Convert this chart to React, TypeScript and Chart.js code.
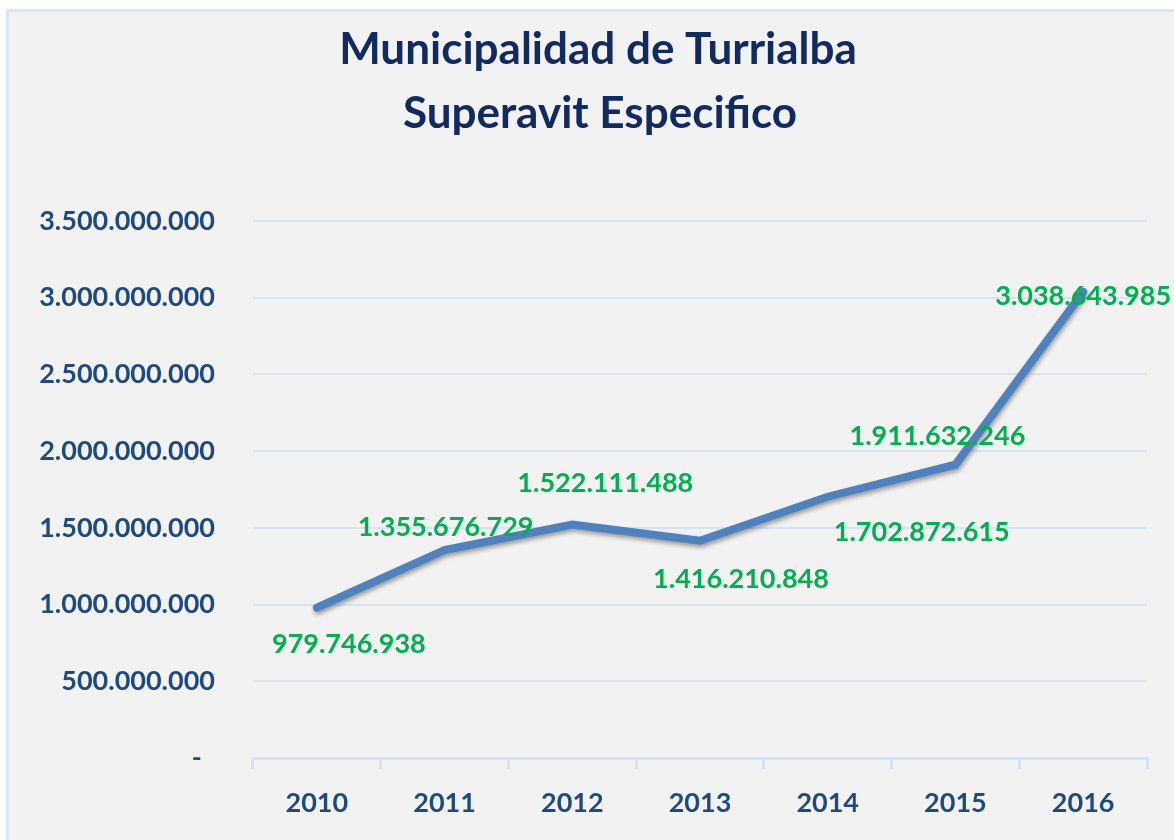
import React, { useEffect, useRef } from "react";
import { Chart, registerables } from "chart.js";

Chart.register(...registerables);

const years = ["2010", "2011", "2012", "2013", "2014", "2015", "2016"];
const superavit = [979746938, 1355676729, 1522111488, 1416210848, 1702872615, 1911632246, 3038643985];
const titleLines = ["Municipalidad de Turrialba", "Superavit Especifico"];
const yMax = 3500000000;
const yStep = 500000000;

const FONT = "Lato, 'Open Sans', sans-serif";

function fmt(n: number): string {
  const s = Math.round(n).toString();
  return s.replace(/\B(?=(\d{3})+(?!\d))/g, ".");
}

const titlePlugin = {
  id: "customTitle",
  beforeDraw(chart: any) {
    const ctx = chart.ctx;
    ctx.save();
    ctx.fillStyle = "#112A61";
    ctx.font = `bold 44px ${FONT}`;
    ctx.textAlign = "center";
    ctx.textBaseline = "middle";
    ctx.fillText(titleLines[0], 598, 50);
    ctx.fillText(titleLines[1], 600, 114);
    ctx.restore();
  },
};

const shadowPlugin = {
  id: "lineShadow",
  beforeDatasetDraw(chart: any) {
    const ctx = chart.ctx;
    ctx.save();
    ctx.shadowColor = "rgba(0,0,0,0.35)";
    ctx.shadowBlur = 4;
    ctx.shadowOffsetX = 1;
    ctx.shadowOffsetY = 3;
  },
  afterDatasetDraw(chart: any) {
    chart.ctx.restore();
  },
};

const labelOffsets = [
  [32, 37],
  [1, -23],
  [33, -41],
  [41, 39],
  [94, 36],
  [-18, -28],
  [0, 5],
];

const dataLabelPlugin = {
  id: "valueLabels",
  afterDatasetsDraw(chart: any) {
    const ctx = chart.ctx;
    const meta = chart.getDatasetMeta(0);
    const data = chart.data.datasets[0].data as number[];
    ctx.save();
    ctx.fillStyle = "#00B050";
    ctx.font = `bold 27px ${FONT}`;
    ctx.textAlign = "center";
    ctx.textBaseline = "middle";
    meta.data.forEach((pt: any, i: number) => {
      const [dx, dy] = labelOffsets[i];
      ctx.fillText(fmt(data[i]), pt.x + dx, pt.y + dy);
    });
    ctx.restore();
  },
};

export default function App() {
  const ref = useRef<HTMLCanvasElement>(null);

  useEffect(() => {
    if (!ref.current) return;
    const chart = new Chart(ref.current, {
      type: "line",
      data: {
        labels: years,
        datasets: [
          {
            data: superavit,
            borderColor: "#4F81BD",
            borderWidth: 8,
            pointRadius: 0,
            pointHoverRadius: 0,
            tension: 0,
            fill: false,
            borderCapStyle: "round",
          },
        ],
      },
      options: {
        animation: false,
        responsive: false,
        maintainAspectRatio: false,
        layout: { padding: { top: 221, right: 27, left: 0, bottom: 0 } },
        plugins: {
          legend: { display: false },
          title: { display: false },
          tooltip: { enabled: false },
        },
        scales: {
          x: {
            offset: true,
            grid: {
              offset: true,
              drawOnChartArea: false,
              drawTicks: true,
              tickLength: 11,
              color: "#D6E3F3",
              lineWidth: 3,
            },
            border: { display: true, color: "#D6E3F3", width: 3 },
            ticks: {
              color: "#1F4A80",
              font: { family: FONT, size: 27, weight: "bold" },
              padding: 18,
            },
            afterFit(scale: any) {
              scale.height = 82;
            },
          },
          y: {
            min: 0,
            max: yMax,
            ticks: {
              stepSize: yStep,
              color: "#1F4A80",
              font: { family: FONT, size: 27, weight: "bold" },
              padding: 38,
              callback: (v: any) => (Number(v) === 0 ? "-  " : fmt(Number(v))),
            },
            grid: { color: "#D6E3F3", lineWidth: 2, drawTicks: false },
            border: { display: false },
            afterFit(scale: any) {
              scale.width = 253;
            },
          },
        },
      },
      plugins: [titlePlugin, shadowPlugin, dataLabelPlugin],
    });
    return () => chart.destroy();
  }, []);

  return (
    <div
      style={{
        position: "fixed",
        left: 0,
        top: 0,
        width: 1174,
        height: 840,
        overflow: "hidden",
        background: "#ffffff",
      }}
    >
      <div
        style={{
          position: "absolute",
          left: 6,
          top: 9,
          width: 1300,
          height: 1000,
          border: "3px solid #DCE6F2",
          background: "#F2F2F2",
        }}
      />
      <canvas
        ref={ref}
        width={1174}
        height={840}
        style={{ position: "absolute", left: 0, top: 0, width: 1174, height: 840 }}
      />
    </div>
  );
}
